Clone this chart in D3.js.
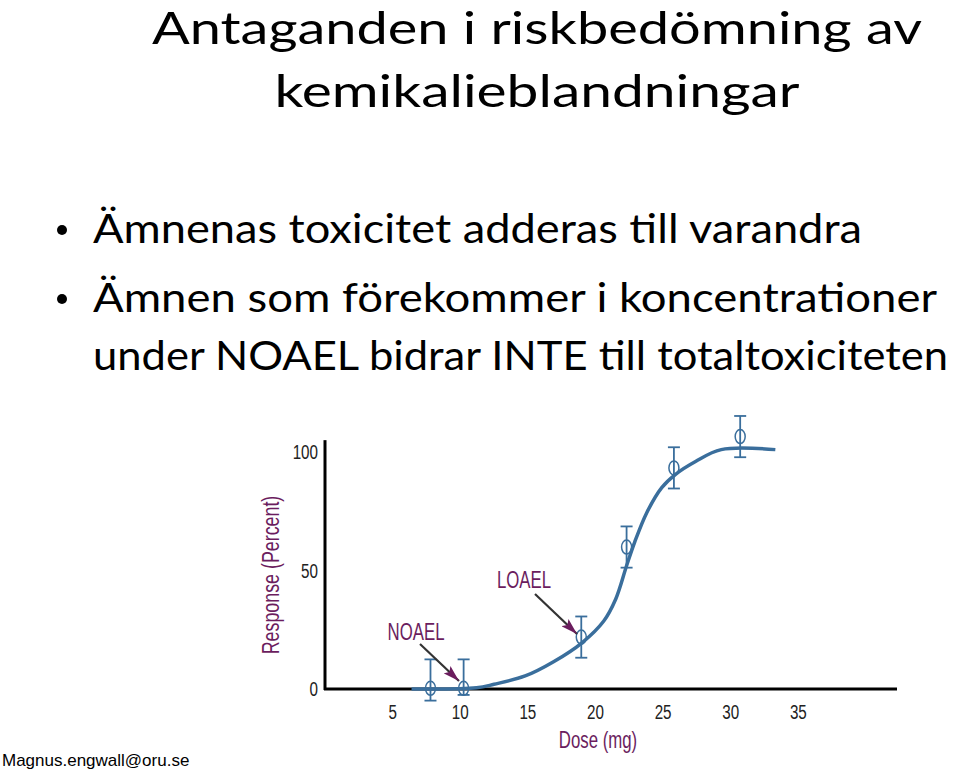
<!DOCTYPE html>
<html><head><meta charset="utf-8">
<script src="https://cdn.jsdelivr.net/npm/d3@7"></script>
<style>body{margin:0;background:#fff}</style>
</head><body>
<svg id="c" width="959" height="771"></svg>
<script>
// dose-response data
let curveDose = [6.4, 11.2, 12.5, 14.8, 16.9, 19.0, 20.6, 21.5, 22.3, 22.9, 23.8, 24.9, 25.9, 27.4, 29.3, 33.3];
let curveResp = [0, 0.5, 2.0, 5.5, 11.5, 19.5, 28.6, 38, 52, 62, 74.5, 85, 90.5, 96, 101, 101];
let pointDose = [7.8, 10.25, 18.95, 22.3, 25.8, 30.7];
let pointResp = [0.3, 0.3, 21.9, 59.9, 93.3, 106.5];
let errLow = [-4.9, -2.5, 13.2, 51.2, 84.6, 97.8];
let errHigh = [12.5, 12.5, 30.6, 68.6, 102, 115.2];
let xTicks = [5, 10, 15, 20, 25, 30, 35];
let yTicks = [0, 50, 100];

let svg = d3.select("#c");
let purple = "#6b1d5e", blue = "#3a6e9c";

//slide text
let titleLines = [["Antaganden i riskbedömning av", 537, 44, 770], ["kemikalieblandningar", 537, 107, 525]];
titleLines.forEach(t => {
  svg.append("text").attr("x", t[1]).attr("y", t[2]).attr("text-anchor", "middle")
    .attr("textLength", t[3]).attr("lengthAdjust", "spacingAndGlyphs")
    .attr("font-family", "Lato, 'Open Sans', sans-serif").attr("font-size", 45).text(t[0]);
});
let bullets = [["Ämnenas toxicitet adderas till varandra", 243, 769, true],
  ["Ämnen som förekommer i koncentrationer", 312, 844, true],
  ["under NOAEL bidrar INTE till totaltoxiciteten", 370, 855, false]];
bullets.forEach(b => {
  if(b[3]) svg.append("circle").attr("cx", 62).attr("cy", b[1] - 13).attr("r", 5).attr("fill", "#000");
  svg.append("text").attr("x", 93).attr("y", b[1]).attr("textLength", b[2]).attr("lengthAdjust", "spacingAndGlyphs")
    .attr("font-family", "Lato, 'Open Sans', sans-serif").attr("font-size", 41).text(b[0]);
});
svg.append("text").attr("x", 2).attr("y", 766).attr("font-family", "'Liberation Sans', Arial, sans-serif")
  .attr("font-size", 17).text("Magnus.engwall@oru.se");

//chart
let x = d3.scaleLinear().domain([0, 42]).range([325, 893]);
let y = d3.scaleLinear().domain([0, 100]).range([689, 452]);
let narrow = "'Liberation Sans Narrow', 'Arial Narrow', sans-serif";

svg.append("line").attr("x1", 325).attr("x2", 325).attr("y1", y(105)).attr("y2", 690)
  .attr("stroke", "#000").attr("stroke-width", 3);
svg.append("line").attr("x1", 324).attr("x2", 897).attr("y1", 689).attr("y2", 689)
  .attr("stroke", "#000").attr("stroke-width", 3);

//condensed look: squeeze labels horizontally
function squeeze(sel, cx, cy){
  return sel.attr("transform", `translate(${cx},${cy}) scale(0.8,1.1)`);
}
xTicks.forEach(d => {
  squeeze(svg.append("text"), x(d), 719).attr("text-anchor", "middle")
    .attr("font-family", narrow).attr("font-size", 19).attr("fill", "#222").text(d);
});
yTicks.forEach(d => {
  squeeze(svg.append("text"), 318, y(d) + 7).attr("text-anchor", "end")
    .attr("font-family", narrow).attr("font-size", 19).attr("fill", "#222").text(d);
});

squeeze(svg.append("text"), 598, 748).attr("text-anchor", "middle")
  .attr("font-family", narrow).attr("font-size", 21).attr("fill", purple).text("Dose (mg)");
svg.append("text").attr("transform", "translate(279,575) rotate(-90) scale(0.85,1.1)").attr("text-anchor", "middle")
  .attr("font-family", narrow).attr("font-size", 21).attr("fill", purple).text("Response (Percent)");

let line = d3.line().x((d, i) => x(d)).y((d, i) => y(curveResp[i])).curve(d3.curveCatmullRom);
svg.append("path").attr("d", line(curveDose)).attr("fill", "none")
  .attr("stroke", blue).attr("stroke-width", 3.5);

let pts = svg.selectAll(".pt").data(pointDose).enter().append("g");
pts.append("line").attr("x1", d => x(d)).attr("x2", d => x(d))
  .attr("y1", (d, i) => y(errLow[i])).attr("y2", (d, i) => y(errHigh[i]))
  .attr("stroke", blue).attr("stroke-width", 1.8);
[errLow, errHigh].forEach(arr => {
  pts.append("line").attr("x1", d => x(d) - 6).attr("x2", d => x(d) + 6)
    .attr("y1", (d, i) => y(arr[i])).attr("y2", (d, i) => y(arr[i]))
    .attr("stroke", blue).attr("stroke-width", 1.8);
});
pts.append("ellipse").attr("cx", d => x(d)).attr("cy", (d, i) => y(pointResp[i]))
  .attr("rx", 5).attr("ry", 7).attr("fill", "none").attr("stroke", blue).attr("stroke-width", 1.5);

//annotations
svg.append("defs").append("marker").attr("id", "ah").attr("viewBox", "0 0 10 6")
  .attr("refX", 10).attr("refY", 3).attr("markerWidth", 8).attr("markerHeight", 4.5)
  .attr("markerUnits", "strokeWidth").attr("orient", "auto")
  .append("path").attr("d", "M0,0 L10,3 L0,6 L2,3 Z").attr("fill", purple);
let notes = [["NOAEL", 416, 640, 420, 644, 459, 681], ["LOAEL", 524, 588, 535, 594, 577, 634]];
notes.forEach(n => {
  squeeze(svg.append("text"), n[1], n[2]).attr("text-anchor", "middle")
    .attr("font-family", narrow).attr("font-size", 21).attr("fill", purple).text(n[0]);
  svg.append("line").attr("x1", n[3]).attr("y1", n[4]).attr("x2", n[5]).attr("y2", n[6])
    .attr("stroke", "#333").attr("stroke-width", 2.2).attr("marker-end", "url(#ah)");
});
</script>
</body></html>
